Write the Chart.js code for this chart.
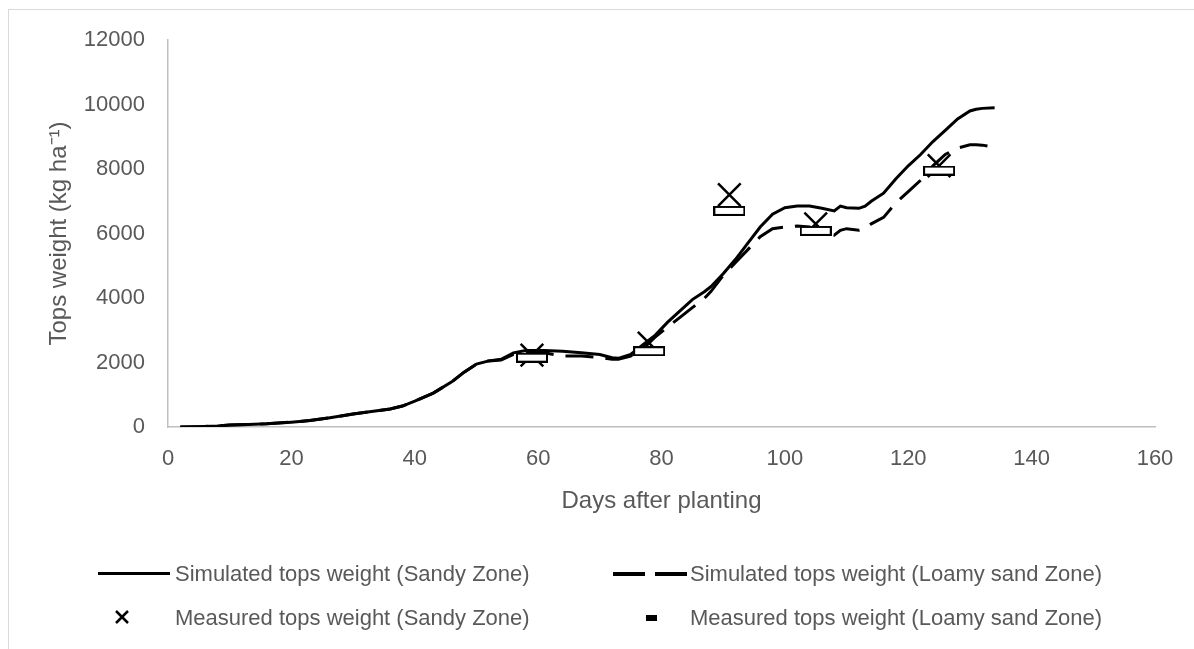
<!DOCTYPE html>
<html>
<head>
<meta charset="utf-8">
<script src="https://cdn.jsdelivr.net/npm/chart.js"></script>
<style>
  html, body { margin: 0; padding: 0; background: #fff; overflow: hidden; }
  #wrap { position: relative; width: 1194px; height: 649px; font-family: "Liberation Sans", Arial, sans-serif; }
  #frame { position: absolute; left: 8px; top: 9px; width: 1200px; height: 700px; border: 1px solid #d9d9d9; }
  canvas { position: absolute; left: 0; top: 0; }
  .lg { position: absolute; font-size: 22px; color: #595959; line-height: 26px; white-space: nowrap; }
  .sw { position: absolute; background: #000; }
</style>
</head>
<body>
<div id="wrap">
  <div id="frame"></div>
  <canvas id="chartTops" width="1194" height="649"></canvas>

  <!-- chú giải -->
  <div class="sw" style="left:98px; top:572px; width:72px; height:3px;"></div>
  <div class="lg" style="left:175px; top:561px;">Simulated tops weight (Sandy Zone)</div>

  <div class="sw" style="left:613px; top:572px; width:32px; height:4px;"></div>
  <div class="sw" style="left:655px; top:572px; width:32px; height:4px;"></div>
  <div class="lg" style="left:690px; top:561px;">Simulated tops weight (Loamy sand Zone)</div>

  <svg style="position:absolute; left:114px; top:609px;" width="16" height="16">
    <line x1="2" y1="2" x2="14" y2="14" stroke="#000" stroke-width="2.5"/>
    <line x1="14" y1="2" x2="2" y2="14" stroke="#000" stroke-width="2.5"/>
  </svg>
  <div class="lg" style="left:175px; top:605px;">Measured tops weight (Sandy Zone)</div>

  <div class="sw" style="left:646px; top:615px; width:11px; height:6px;"></div>
  <div class="lg" style="left:690px; top:605px;">Measured tops weight (Loamy sand Zone)</div>
</div>

<script>
  // Số liệu mô phỏng (ngày sau trồng)
  const simDays = [2, 5, 8, 10, 13, 16, 20, 23, 26, 30, 33, 36, 38, 40, 43, 46, 48, 50, 52, 54, 56, 58,
    61, 64, 67, 70, 72, 73, 75, 77, 79, 81, 83, 85, 87, 88, 90, 92, 94, 96, 98, 100, 102, 104, 106,
    108, 109, 110, 112, 113, 114, 116, 118, 120, 122, 124, 126, 128, 130, 131, 132, 134];
  const sandySim = [0, 10, 30, 60, 80, 100, 150, 200, 280, 400, 480, 560, 650, 800, 1050, 1400, 1700, 1950, 2050, 2100, 2300, 2370,
    2370, 2350, 2300, 2250, 2150, 2130, 2250, 2550, 2850, 3250, 3600, 3950, 4200, 4350, 4750, 5200, 5700, 6200, 6600, 6800, 6850, 6850, 6780,
    6700, 6850, 6800, 6780, 6850, 7000, 7250, 7700, 8100, 8450, 8850, 9200, 9550, 9800, 9850, 9880, 9900];
  const loamySim = [0, 10, 30, 60, 80, 100, 150, 200, 280, 400, 480, 560, 650, 800, 1050, 1400, 1700, 1950, 2050, 2080, 2250, 2300,
    2300, 2200, 2200, 2150, 2100, 2100, 2200, 2450, 2800, 3100, 3400, 3700, 4000, 4200, 4700, 5100, 5500, 5900, 6150, 6200, 6230, 6200, 6050,
    5950, 6100, 6150, 6100, 6150, 6300, 6500, 6950, 7300, 7650, 8100, 8450, 8650, 8750, 8750, 8740, 8680];

  // Số liệu đo
  const measDays = [59, 78, 91, 105, 125];
  const sandyMeas = [2230, 2600, 7200, 6300, 8100];
  const loamyMeas = [2150, 2350, 6700, 6080, 7950];

  const toXY = (xs, ys) => xs.map((x, i) => ({ x: x, y: ys[i] }));

  // ký hiệu hình chữ nhật rỗng cho điểm đo Loamy sand
  const rectMark = document.createElement('canvas');
  rectMark.width = 32; rectMark.height = 10;
  const rc = rectMark.getContext('2d');
  rc.fillStyle = '#fff';
  rc.fillRect(1, 1, 30, 8);
  rc.strokeStyle = '#000';
  rc.lineWidth = 2;
  rc.strokeRect(1, 1, 30, 8);

  const grayText = '#595959';
  const axisLine = '#bfbfbf';

  var ctx = document.getElementById('chartTops').getContext('2d');
  var topsChart = new Chart(ctx, {
    type: 'scatter',
    data: {
      datasets: [
        {
          label: 'Simulated tops weight (Sandy Zone)',
          data: toXY(simDays, sandySim),
          showLine: true, borderColor: '#000', borderWidth: 3, pointRadius: 0, order: 4
        },
        {
          label: 'Simulated tops weight (Loamy sand Zone)',
          data: toXY(simDays, loamySim),
          showLine: true, borderColor: '#000', borderWidth: 3, borderDash: [28, 12], pointRadius: 0, order: 3
        },
        {
          label: 'Measured tops weight (Sandy Zone)',
          data: toXY(measDays, sandyMeas),
          pointStyle: 'crossRot', pointRadius: 16, borderColor: '#000', borderWidth: 2.5, order: 2
        },
        {
          label: 'Measured tops weight (Loamy sand Zone)',
          data: toXY(measDays, loamyMeas),
          pointStyle: rectMark, order: 1
        }
      ]
    },
    options: {
      responsive: false,
      animation: false,
      devicePixelRatio: 1,
      layout: { padding: { left: 0, top: 40, right: 39, bottom: 133 } },
      plugins: { legend: { display: false }, tooltip: { enabled: false } },
      scales: {
        x: {
          type: 'linear', min: 0, max: 160,
          ticks: { stepSize: 20, color: grayText, padding: 19, font: { family: 'Liberation Sans', size: 22 },
                   callback: v => String(v) },
          grid: { display: false, drawTicks: false },
          border: { display: true, color: axisLine, width: 1.5 },
          title: { display: true, text: 'Days after planting', color: grayText, padding: 0,
                   font: { family: 'Liberation Sans', size: 24 } },
          afterFit: s => { s.height = 89; }
        },
        y: {
          min: 0, max: 12000,
          ticks: { stepSize: 2000, color: grayText, padding: 23, font: { family: 'Liberation Sans', size: 22 },
                   callback: v => String(v) },
          grid: { display: false, drawTicks: false },
          border: { display: true, color: axisLine, width: 1.5 },
          title: { display: true, text: 'Tops weight (kg ha\u207B\u00B9)', color: grayText, padding: { top: 45, bottom: 0 },
                   font: { family: 'Liberation Sans', size: 24 } },
          afterFit: s => { s.width = 168; }
        }
      }
    }
  });
</script>
</body>
</html>
